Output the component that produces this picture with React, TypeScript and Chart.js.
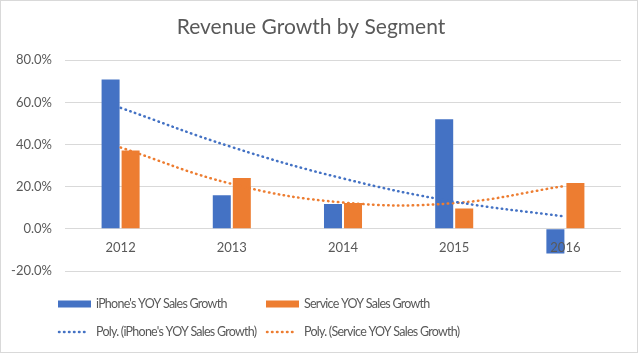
import React, { useEffect, useRef } from 'react';
import { Chart, registerables } from 'chart.js';

Chart.register(...registerables);

const years = ['2012', '2013', '2014', '2015', '2016'];
const iphoneGrowth = [70.9, 15.9, 11.8, 52.0, -11.7];
const serviceGrowth = [37.2, 24.1, 12.3, 9.7, 21.7];
const iphoneTrend = [57.4, 38.8, 23.9, 12.9, 5.8];
const serviceTrend = [38.6, 21.3, 12.5, 12.2, 20.4];
const yMin = -20;
const yMax = 80;
const yStep = 20;
const seriesNames = [
  "iPhone's YOY Sales Growth",
  'Service YOY Sales Growth',
  "Poly. (iPhone's YOY Sales Growth)",
  'Poly. (Service YOY Sales Growth)',
];
const titleText = 'Revenue Growth by Segment';

const BLUE = '#4472C4';
const ORANGE = '#ED7D31';
const TEXT = '#595959';
const GRID = '#D9D9D9';
const FONT = 'Lato, "Open Sans", sans-serif';

// Category labels drawn after the bars, next to the zero line (as in Excel)
const categoryLabelPlugin = {
  id: 'categoryLabels',
  afterDatasetsDraw(chart: any) {
    const ctx = chart.ctx;
    const xs = chart.scales.x;
    const ys = chart.scales.y;
    const y0 = ys.getPixelForValue(0);
    ctx.save();
    ctx.font = `13px ${FONT}`;
    ctx.fillStyle = TEXT;
    ctx.textAlign = 'center';
    ctx.textBaseline = 'middle';
    chart.data.labels.forEach((lab: string, i: number) => {
      ctx.fillText(lab, xs.getPixelForValue(i), y0 + 19);
    });
    ctx.restore();
  },
};

const legendPlugin = {
  id: 'excelLegend',
  afterDraw(chart: any) {
    const ctx = chart.ctx;
    const ca = chart.chartArea;
    const colX = ca.left - 7;
    const colW = 208;
    const rowY = ca.bottom + 33;
    const rowH = 28;
    ctx.save();
    ctx.font = `12.5px ${FONT}`;
    try {
      (ctx as any).letterSpacing = '-0.75px';
    } catch (e) {}
    ctx.textBaseline = 'middle';
    ctx.textAlign = 'left';
    chart.data.datasets.forEach((ds: any, i: number) => {
      const col = i % 2;
      const row = Math.floor(i / 2);
      const x = colX + col * colW;
      const y = rowY + row * rowH;
      if (ds.type === 'bar') {
        ctx.fillStyle = ds.backgroundColor;
        ctx.fillRect(x, y - 3.5, 33, 7);
      } else {
        ctx.strokeStyle = ds.borderColor;
        ctx.lineWidth = 2.5;
        ctx.lineCap = 'round';
        ctx.setLineDash([0.5, 4.5]);
        ctx.beginPath();
        ctx.moveTo(x + 1, y);
        ctx.lineTo(x + 31, y);
        ctx.stroke();
        ctx.setLineDash([]);
      }
      ctx.fillStyle = TEXT;
      ctx.fillText(ds.label, x + 38, y);
    });
    ctx.restore();
  },
};

export default function App() {
  const ref = useRef<HTMLCanvasElement | null>(null);
  useEffect(() => {
    document.body.style.margin = '0';
    const canvas = ref.current;
    if (!canvas) return;
    const chart = new Chart(canvas, {
      type: 'bar',
      data: {
        labels: years,
        datasets: [
          {
            type: 'bar',
            label: seriesNames[0],
            data: iphoneGrowth,
            backgroundColor: BLUE,
            categoryPercentage: 0.36,
            barPercentage: 0.9,
            order: 2,
          },
          {
            type: 'bar',
            label: seriesNames[1],
            data: serviceGrowth,
            backgroundColor: ORANGE,
            categoryPercentage: 0.36,
            barPercentage: 0.9,
            order: 2,
          },
          {
            type: 'line',
            label: seriesNames[2],
            data: iphoneTrend,
            borderColor: BLUE,
            borderWidth: 2.5,
            borderDash: [0.5, 4.5],
            borderCapStyle: 'round',
            pointRadius: 0,
            tension: 0.4,
            fill: false,
            order: 1,
          },
          {
            type: 'line',
            label: seriesNames[3],
            data: serviceTrend,
            borderColor: ORANGE,
            borderWidth: 2.5,
            borderDash: [0.5, 4.5],
            borderCapStyle: 'round',
            pointRadius: 0,
            tension: 0.4,
            fill: false,
            order: 1,
          },
        ] as any,
      },
      options: {
        animation: false,
        responsive: true,
        maintainAspectRatio: false,
        layout: { padding: { left: 0, right: 16, top: 0, bottom: 81 } },
        plugins: {
          legend: { display: false },
          tooltip: { enabled: false },
          title: {
            display: true,
            text: titleText,
            color: TEXT,
            font: { family: FONT, size: 21, weight: 'normal' },
            padding: { top: 14, bottom: 20 },
          },
        },
        scales: {
          x: {
            position: { y: 0 } as any,
            grid: { display: false, drawTicks: false },
            border: { display: false },
            ticks: { display: false },
          },
          y: {
            min: yMin,
            max: yMax,
            afterFit: (scale: any) => {
              scale.width = 64;
            },
            grid: { color: GRID, lineWidth: 1, drawTicks: false },
            border: { display: false },
            ticks: {
              stepSize: yStep,
              color: TEXT,
              font: { family: FONT, size: 13 },
              padding: 13,
              callback: (v: any) => Number(v).toFixed(1) + '%',
            },
          },
        },
      },
      plugins: [categoryLabelPlugin, legendPlugin],
    });
    return () => chart.destroy();
  }, []);
  return (
    <div
      style={{
        position: 'absolute',
        left: 0,
        top: 0,
        width: 636,
        height: 351,
        border: '1px solid #D9D9D9',
        background: '#fff',
      }}
    >
      <canvas ref={ref} />
    </div>
  );
}
